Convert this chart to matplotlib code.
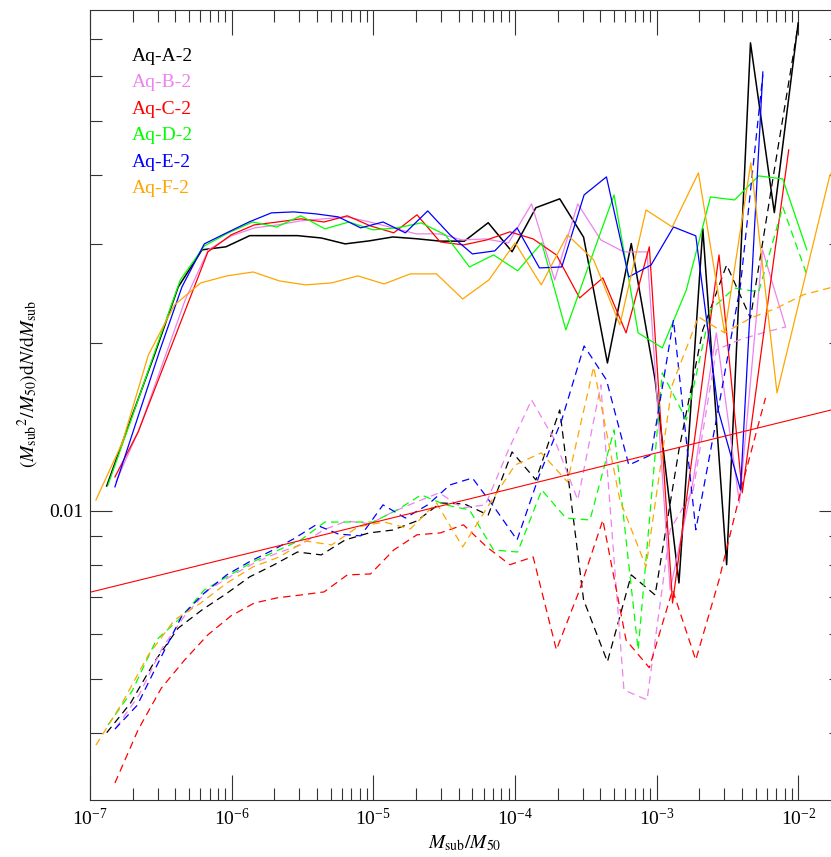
import numpy as np
import matplotlib
matplotlib.use('Agg')
import matplotlib.pyplot as plt
from matplotlib.ticker import FixedLocator, FixedFormatter, NullFormatter, LogLocator

plt.rcParams['font.family'] = ['Liberation Serif', 'DejaVu Serif']
plt.rcParams['mathtext.fontset'] = 'stix'

halos = ['Aq-A-2', 'Aq-B-2', 'Aq-C-2', 'Aq-D-2', 'Aq-E-2', 'Aq-F-2']
colors = ['black', 'violet', 'red', 'lime', 'blue', 'orange']

# first bin centre (log10 Msub/M50) and bin width (dex) of each halo
bin_start = [-6.882, -6.817, -6.824, -6.873, -6.824, -6.958]
bin_width = [0.1683, 0.1630, 0.1640, 0.1701, 0.1577, 0.1849]

# solid lines
A_solid = [0.01107, 0.01454, 0.01901, 0.02517, 0.02933, 0.02970, 0.0311, 0.0311, 0.0311, 0.0308,
           0.03006, 0.03043, 0.03093, 0.0307, 0.0304, 0.0304, 0.0328, 0.0291, 0.0349, 0.0362,
           0.0309, 0.01839, 0.0301, 0.01715, 0.00742, 0.0320, 0.0080, 0.0689, 0.0342, 0.0748]
B_solid = [0.01126, 0.01395, 0.01824, 0.02385, 0.02933, 0.03107, 0.03211, 0.03251, 0.03305, 0.03333,
           0.0336, 0.0329, 0.03211, 0.03133, 0.03133, 0.03055, 0.03068, 0.03018, 0.03545, 0.0259,
           0.03545, 0.03055, 0.02908, 0.02908, 0.00721, 0.01135, 0.02082, 0.01032, 0.02933, 0.02134]
C_solid = [0.01149, 0.01384, 0.01772, 0.0227, 0.02908, 0.0312, 0.03251, 0.0329, 0.03333, 0.0329,
           0.03375, 0.03237, 0.03146, 0.03389, 0.0303, 0.02993, 0.03055, 0.03159, 0.03068, 0.02872,
           0.02405, 0.02612, 0.02082, 0.0297, 0.00683, 0.01395, 0.02872, 0.01076, 0.02196, 0.0443]
D_solid = [0.01112, 0.01472, 0.01957, 0.0259, 0.02981, 0.03146, 0.0329, 0.03223, 0.03375, 0.03198,
           0.0329, 0.03185, 0.03211, 0.03278, 0.0312, 0.02733, 0.02872, 0.0269, 0.03018, 0.02108,
           0.0279, 0.03679, 0.02082, 0.01957, 0.02486, 0.03648, 0.03603, 0.03979, 0.0393, 0.02933]
E_solid = [0.01103, 0.0146, 0.01932, 0.02517, 0.03006, 0.03146, 0.0329, 0.03416, 0.0343, 0.03402,
           0.0336, 0.03211, 0.0329, 0.03146, 0.03444, 0.0312, 0.02884, 0.0292, 0.03211, 0.02722,
           0.02733, 0.03679, 0.03963, 0.02623, 0.02756, 0.03223, 0.03107, 0.01515, 0.01089, 0.0611]
F_solid = [0.01045, 0.01322, 0.0190, 0.02337, 0.02559, 0.02634, 0.02677, 0.0258, 0.02538, 0.02559,
           0.02634, 0.02548, 0.02656, 0.02656, 0.02395, 0.0259, 0.03018, 0.02538, 0.0312, 0.02814,
           0.02152, 0.03458, 0.03223, 0.0403, 0.02082, 0.0420, 0.01625, 0.02538, 0.0396, 0.05]

# dashed lines
A_dashed = [0.00400, 0.00452, 0.00536, 0.00616, 0.00664, 0.00709, 0.00761, 0.00799, 0.00843, 0.00833,
            0.00886, 0.00912, 0.00923, 0.00958, 0.01032, 0.01028, 0.00982, 0.01274, 0.01135, 0.01515,
            0.00692, 0.00536, 0.00767, 0.00706, 0.01285, 0.02108, 0.02756, 0.02214, 0.04078, 0.0742]
B_dashed = [0.00408, 0.00467, 0.00567, 0.0065, 0.00721, 0.00764, 0.00806, 0.0084, 0.00868, 0.00924,
            0.00958, 0.00947, 0.00995, 0.01036, 0.01076, 0.01011, 0.01024, 0.01285, 0.01579, 0.01339,
            0.01045, 0.0168, 0.00477, 0.00458, 0.00924, 0.01089, 0.01941, 0.02023, 0.02082, 0.02134]
C_dashed = [0.00325, 0.00405, 0.00481, 0.0054, 0.00599, 0.00648, 0.00683, 0.00698, 0.00706, 0.00715,
            0.00767, 0.0077, 0.0085, 0.00905, 0.00912, 0.00943, 0.00861, 0.0080, 0.00826, 0.00563,
            0.00721, 0.00962, 0.00586, 0.00523, 0.00721, 0.0054, 0.00751, 0.01112, 0.01592]
D_dashed = [0.00413, 0.00475, 0.00586, 0.00642, 0.00721, 0.00764, 0.00809, 0.00847, 0.00886, 0.00954,
            0.00954, 0.00954, 0.01003, 0.01067, 0.01024, 0.01003, 0.0085, 0.00843, 0.01089, 0.0097,
            0.00962, 0.01395, 0.00563, 0.01765, 0.01454, 0.02289, 0.02506, 0.02465, 0.035, 0.02645]
E_dashed = [0.00406, 0.00448, 0.0054, 0.00648, 0.00712, 0.00767, 0.00809, 0.00847, 0.0089, 0.00943,
            0.00908, 0.00901, 0.01024, 0.0097, 0.01024, 0.01112, 0.01144, 0.01011, 0.00886, 0.01159,
            0.01454, 0.01973, 0.01715, 0.01207, 0.01259, 0.02196, 0.00924, 0.01515, 0.02538, 0.0604]
F_dashed = [0.0038, 0.00452, 0.00551, 0.00637, 0.00683, 0.00742, 0.00793, 0.00826, 0.00882, 0.00868,
            0.00935, 0.00954, 0.00927, 0.01032, 0.00861, 0.01024, 0.01207, 0.01269, 0.01126, 0.01809,
            0.01045, 0.00793, 0.0168, 0.02224, 0.02082, 0.02214, 0.02308, 0.02436, 0.02506, 0.0259]

solid = [A_solid, B_solid, C_solid, D_solid, E_solid, F_solid]
dashed = [A_dashed, B_dashed, C_dashed, D_dashed, E_dashed, F_dashed]

# power-law fit (red straight line)
fit_x = [1e-7, 2e-2]
fit_y = [0.00714, 0.0153]

fig = plt.figure(figsize=(8.31, 8.57), dpi=100)
# right spine sits just past the picture edge, as in the original
ax = fig.add_axes([90/831, 1-800/857, 751/831, 790/857])
ax.set_xscale('log')
ax.set_yscale('log')

for i in range(len(halos)):
    xs = 10**(bin_start[i] + bin_width[i]*np.arange(len(solid[i])))
    lw = 1.1 if colors[i] == 'black' else 0.9
    ax.plot(xs, solid[i], color=colors[i], lw=lw)
    xd = 10**(bin_start[i] + bin_width[i]*np.arange(len(dashed[i])))
    ax.plot(xd, dashed[i], color=colors[i], lw=0.9, ls=(0, (6, 4)))

ax.plot(fit_x, fit_y, color='red', lw=0.8)

ax.set_xlim(1e-7, 2e-2)
ax.set_ylim(0.00303, 0.0789)

ax.xaxis.set_major_locator(LogLocator(base=10, numticks=10))
ax.xaxis.set_minor_locator(LogLocator(base=10, subs=np.arange(2, 10), numticks=20))
ax.xaxis.set_minor_formatter(NullFormatter())
ax.yaxis.set_major_locator(FixedLocator([0.01]))
ax.yaxis.set_major_formatter(FixedFormatter(['0.01']))
ax.yaxis.set_minor_locator(FixedLocator([0.004, 0.005, 0.006, 0.007, 0.008, 0.009,
                                         0.02, 0.03, 0.04, 0.05, 0.06, 0.07]))
ax.yaxis.set_minor_formatter(NullFormatter())

ax.tick_params(which='both', direction='in', top=True, right=True, color='#333333', width=0.8)
ax.tick_params(axis='x', which='major', length=18, pad=6, labelsize=14)
ax.tick_params(axis='y', which='major', length=16, pad=5, labelsize=14)
ax.tick_params(which='minor', length=8.5)
for s in ax.spines.values():
    s.set_color('#333333')
    s.set_linewidth(0.8)

for i, name in enumerate(halos):
    ax.text(0.0559, 0.9354 - i*0.0335, name, color=colors[i], fontsize=14,
            transform=ax.transAxes, va='baseline')

fig.text(28/831, 1-384/857, r'$(M_{\rm sub}{}^{2}/M_{50})\mathrm{d}N/\mathrm{d}M_{\rm sub}$',
         rotation=90, ha='center', va='center', fontsize=14)
fig.text(465/831, 1-843/857, r'$M_{\rm sub}/M_{50}$', ha='center', va='center', fontsize=14)

fig.savefig('out.png', dpi=100)
